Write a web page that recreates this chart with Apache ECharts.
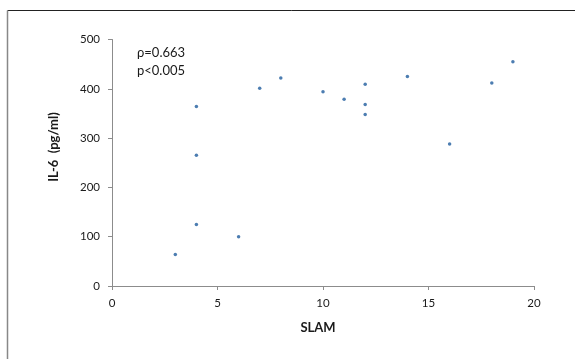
<!DOCTYPE html>
<html>
<head>
<meta charset="utf-8">
<script src="https://cdn.jsdelivr.net/npm/echarts@6/dist/echarts.min.js"></script>
<style>
  html, body { margin: 0; padding: 0; background: #fff; }
  #chart { width: 575px; height: 359px; }
</style>
</head>
<body>
<div id="chart"></div>
<script>
// SLAM score vs IL-6 (pg/ml)
var slam = [3, 4, 4, 4, 6, 7, 8, 10, 11, 12, 12, 12, 14, 16, 18, 19];
var il6 = [64, 125, 265, 364, 100, 401, 422, 394, 379, 409, 368, 348, 425, 288, 412, 455];
var xTicks = [0, 5, 10, 15, 20];
var yTicks = [0, 100, 200, 300, 400, 500];

var points = slam.map(function (s, i) { return [s, il6[i]]; });

var chart = echarts.init(document.getElementById('chart'));
var font = 'Lato';

option = {
    backgroundColor: '#ffffff',
    animation: false,
    grid: { left: 112, right: 41, top: 39.5, bottom: 73 },
    xAxis: {
        type: 'value',
        min: xTicks[0],
        max: xTicks[xTicks.length - 1],
        interval: 5,
        axisLine: { show: true, lineStyle: { color: '#8c8c8c', width: 1 } },
        axisTick: { show: true, length: 4, inside: false, lineStyle: { color: '#8c8c8c' } },
        axisLabel: { color: '#1a1a1a', fontFamily: font, fontSize: 11.5, margin: 11 },
        splitLine: { show: false }
    },
    yAxis: {
        type: 'value',
        min: yTicks[0],
        max: yTicks[yTicks.length - 1],
        interval: 100,
        axisLine: { show: true, lineStyle: { color: '#8c8c8c', width: 1 } },
        axisTick: { show: true, length: 4, lineStyle: { color: '#8c8c8c' } },
        axisLabel: { color: '#1a1a1a', fontFamily: font, fontSize: 11.5, margin: 12 },
        splitLine: { show: false }
    },
    graphic: [
        // cropped outer frame
        { type: 'line', shape: { x1: 7.5, y1: 10.5, x2: 575, y2: 10.5 }, style: { stroke: '#222', lineWidth: 1 } },
        { type: 'line', shape: { x1: 7.5, y1: 10.5, x2: 7.5, y2: 359 }, style: { stroke: '#888', lineWidth: 1.5 } },
        { type: 'text', x: 137, y: 53, style: { text: 'ρ=0.663', fill: '#1a1a1a', font: '13px ' + font, verticalAlign: 'middle' } },
        { type: 'text', x: 137, y: 71, style: { text: 'p<0.005', fill: '#1a1a1a', font: '13px ' + font, verticalAlign: 'middle' } },
        { type: 'text', x: 318, y: 328, style: { text: 'SLAM', fill: '#1a1a1a', font: 'bold 13px ' + font, align: 'center', verticalAlign: 'middle' } },
        { type: 'text', x: 54, y: 147, rotation: Math.PI / 2, style: { text: 'IL-6  (pg/ml)', fill: '#1a1a1a', font: 'bold 13px ' + font, align: 'center', verticalAlign: 'middle' } }
    ],
    series: [{
        type: 'scatter',
        data: points,
        symbol: 'circle',
        symbolSize: 3.5,
        itemStyle: { color: '#1f5c9e' }
    }]
};
chart.setOption(option);
</script>
</body>
</html>
